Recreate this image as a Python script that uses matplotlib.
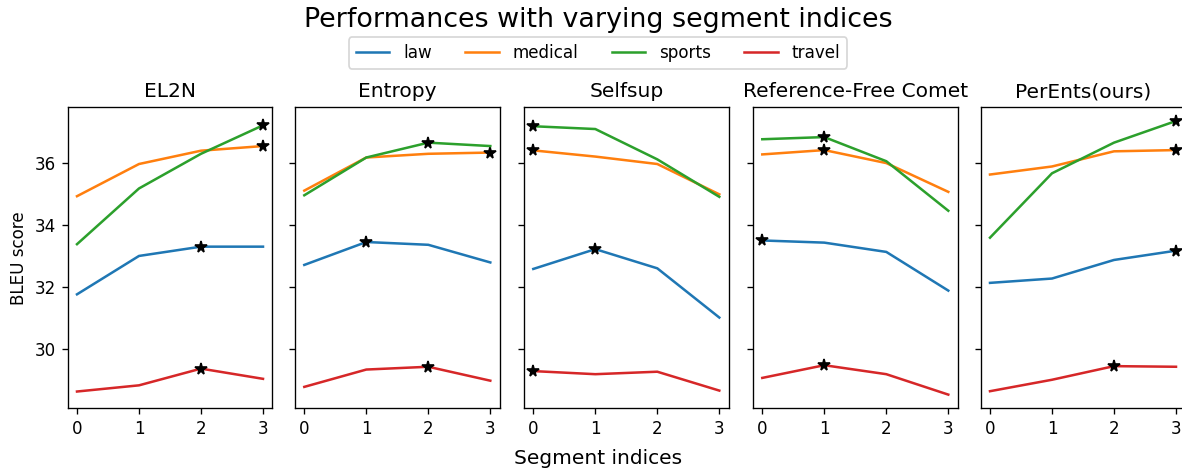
import matplotlib
matplotlib.use("Agg")
import matplotlib.pyplot as plt
import numpy as np

segments = [0, 1, 2, 3]
methods = ["EL2N", "Entropy", "Selfsup", "Reference-Free Comet", "PerEnts(ours)"]
domains = ["law", "medical", "sports", "travel"]
colors = ["#1f77b4", "#ff7f0e", "#2ca02c", "#d62728"]

el2n_law = [31.77, 33.01, 33.31, 33.31]
el2n_medical = [34.94, 35.98, 36.41, 36.56]
el2n_sports = [33.39, 35.19, 36.31, 37.23]
el2n_travel = [28.63, 28.83, 29.37, 29.04]

entropy_law = [32.72, 33.46, 33.37, 32.80]
entropy_medical = [35.12, 36.19, 36.31, 36.35]
entropy_sports = [34.97, 36.19, 36.67, 36.56]
entropy_travel = [28.78, 29.34, 29.43, 28.98]

selfsup_law = [32.59, 33.23, 32.61, 31.02]
selfsup_medical = [36.42, 36.22, 35.98, 35.00]
selfsup_sports = [37.20, 37.11, 36.13, 34.92]
selfsup_travel = [29.29, 29.19, 29.27, 28.66]

comet_law = [33.51, 33.44, 33.14, 31.89]
comet_medical = [36.29, 36.43, 36.01, 35.08]
comet_sports = [36.78, 36.85, 36.07, 34.47]
comet_travel = [29.07, 29.48, 29.19, 28.53]

perents_law = [32.14, 32.28, 32.88, 33.18]
perents_medical = [35.64, 35.90, 36.39, 36.43]
perents_sports = [33.60, 35.68, 36.67, 37.37]
perents_travel = [28.64, 29.01, 29.45, 29.43]

data = [
    [el2n_law, el2n_medical, el2n_sports, el2n_travel],
    [entropy_law, entropy_medical, entropy_sports, entropy_travel],
    [selfsup_law, selfsup_medical, selfsup_sports, selfsup_travel],
    [comet_law, comet_medical, comet_sports, comet_travel],
    [perents_law, perents_medical, perents_sports, perents_travel],
]

W, H = 1182, 470
DPI = 121
fig = plt.figure(figsize=(W / DPI, H / DPI), dpi=DPI)

lefts = [67.7, 295.0, 524.0, 753.0, 980.7]
width = 204.6
top_px, bot_px = 107.3, 408.3

axes = []
for i, (m, series) in enumerate(zip(methods, data)):
    ax = fig.add_axes([lefts[i] / W, 1 - bot_px / H, width / W, (bot_px - top_px) / H],
                      sharey=axes[0] if axes else None)
    for d, vals, c in zip(domains, series, colors):
        ax.plot(segments, vals, color=c, label=d)
        j = int(np.argmax(vals))
        ax.plot(segments[j], vals[j], marker="*", color="black", markersize=7, linestyle="none")
    ax.set_title(m)
    ax.set_xticks(segments)
    if i > 0:
        ax.tick_params(labelleft=False)
    axes.append(ax)

axes[0].set_yticks([30, 32, 34, 36])
axes[0].set_ylabel("BLEU score")

handles = [plt.Line2D([], [], color=c) for c in colors]
fig.legend(handles, domains, loc="center", ncol=4, bbox_to_anchor=(598 / W, 1 - 53 / H))
fig.suptitle("Performances with varying segment indices", fontsize=16, x=598 / W, y=1 - 20 / H, va="center")
fig.text(598 / W, 1 - 458 / H, "Segment indices", ha="center", va="center", fontsize=12)

fig.savefig("out.png", dpi=DPI)
